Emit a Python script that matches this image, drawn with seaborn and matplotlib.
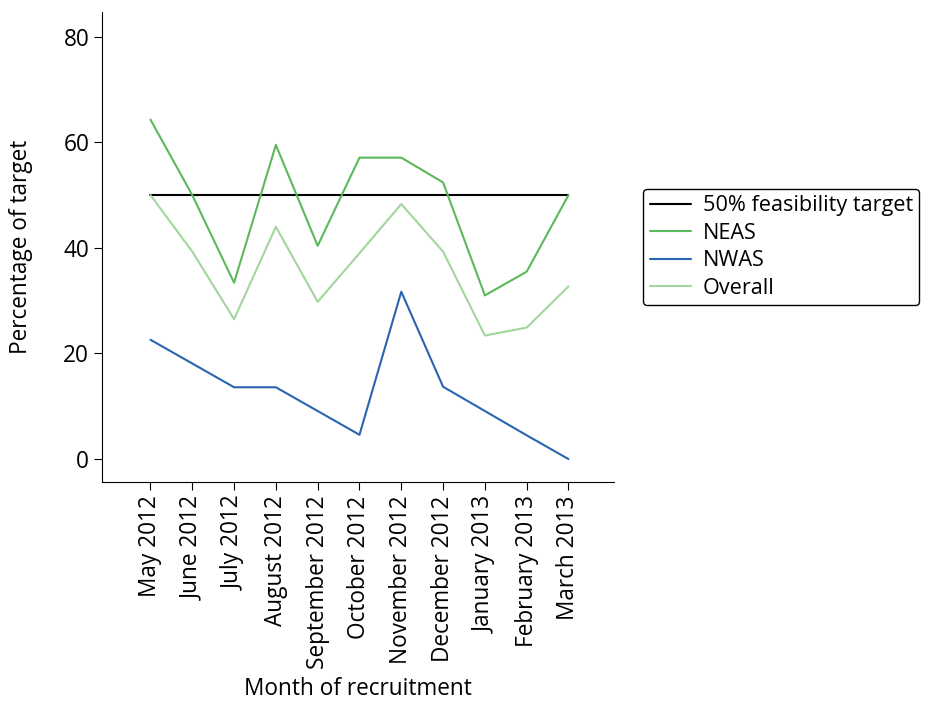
import pandas as pd
import matplotlib.pyplot as plt
import seaborn as sns

months = ["May 2012", "June 2012", "July 2012", "August 2012", "September 2012",
          "October 2012", "November 2012", "December 2012", "January 2013",
          "February 2013", "March 2013"]
target = [50, 50, 50, 50, 50, 50, 50, 50, 50, 50, 50]
neas = [64.3, 50.0, 33.4, 59.5, 40.4, 57.1, 57.1, 52.4, 31.0, 35.5, 50.0]
nwas = [22.6, 18.1, 13.6, 13.6, 9.1, 4.6, 31.7, 13.7, 9.1, 4.5, 0.0]
overall = [50.0, 39.3, 26.5, 44.0, 29.8, 39.0, 48.3, 39.3, 23.4, 24.9, 32.7]

df = pd.DataFrame({
    "month": months * 4,
    "value": target + neas + nwas + overall,
    "series": (["50% feasibility target"] * 11 + ["NEAS"] * 11
               + ["NWAS"] * 11 + ["Overall"] * 11),
})

sns.set_style("ticks")
plt.rcParams["font.family"] = ["Open Sans", "DejaVu Sans"]
plt.rcParams["text.color"] = "black"
plt.rcParams["axes.labelcolor"] = "black"
plt.rcParams["xtick.color"] = "black"
plt.rcParams["ytick.color"] = "black"

palette = {"50% feasibility target": "#000000", "NEAS": "#5cb85a",
           "NWAS": "#2a64b0", "Overall": "#a3d69d"}

fig, ax = plt.subplots(figsize=(9.31, 7.01), dpi=100)
fig.subplots_adjust(left=0.11, right=0.66, top=0.983, bottom=0.312)
sns.lineplot(data=df, x="month", y="value", hue="series", palette=palette,
             sort=False, linewidth=1.5, ax=ax)

ax.set_xlim(-1.15, 11.1)
ax.set_ylim(-4.4, 84.7)
ax.set_yticks([0, 20, 40, 60, 80])
ax.tick_params(axis="both", labelsize=16.3, length=6)
ax.tick_params(axis="x", rotation=90)
ax.set_xlabel("Month of recruitment", fontsize=16.3, labelpad=6)
ax.set_ylabel("Percentage of target", fontsize=16.3, labelpad=22)
for s in ax.spines.values():
    s.set_color("black")
sns.despine(ax=ax)

leg = ax.legend(loc="center left", bbox_to_anchor=(1.056, 0.5), fontsize=15.6,
                frameon=True, fancybox=True, handlelength=1.9,
                borderpad=0.3, labelspacing=0.3, handletextpad=0.55,
                borderaxespad=0)
leg.get_frame().set_edgecolor("#000000")
leg.get_frame().set_linewidth(1.0)
leg.get_frame().set_alpha(1)

fig.savefig("out.png", dpi=100)
